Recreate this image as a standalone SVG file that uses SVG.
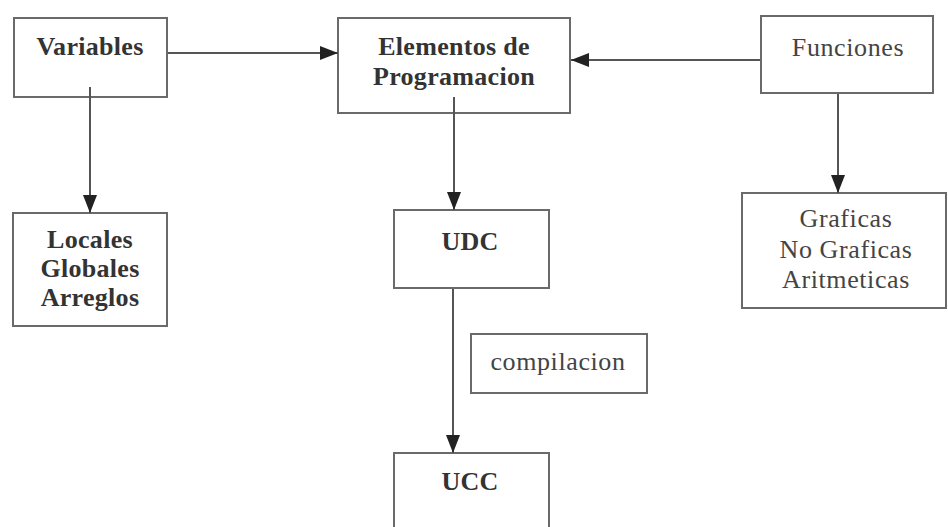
<svg xmlns="http://www.w3.org/2000/svg" width="948" height="527" viewBox="0 0 948 527">
<style>
.box{fill:#fff;stroke:#6a6a6a;stroke-width:2}
.t{font-family:"Liberation Serif","Times New Roman",serif;font-size:26px;font-weight:bold;fill:#333;text-anchor:middle;letter-spacing:0.3px}
.tl{font-family:"Liberation Serif","Times New Roman",serif;font-size:26px;fill:#444;text-anchor:middle;letter-spacing:0.6px}
.c{stroke:#555;stroke-width:2;fill:none;marker-end:url(#ah)}
</style>
<defs>
<marker id="ah" markerUnits="userSpaceOnUse" markerWidth="18" markerHeight="14" viewBox="0 0 18 14" refX="18" refY="7" orient="auto">
<path d="M0,0 L18,7 L0,14 Z" fill="#222"/>
</marker>
</defs>
<rect width="948" height="527" fill="#fff"/>
<g id="variables">
<rect class="box" x="14" y="18" width="153" height="79"/>
<text class="t" x="90" y="55">Variables</text>
</g>
<g id="elementos">
<rect class="box" x="338" y="18" width="232" height="95"/>
<text class="t" x="454" y="55">Elementos de</text>
<text class="t" x="454" y="85">Programacion</text>
</g>
<g id="funciones">
<rect class="box" x="761" y="16" width="172" height="77"/>
<text class="tl" x="848" y="56">Funciones</text>
</g>
<g id="locales">
<rect class="box" x="13" y="213" width="154" height="113"/>
<text class="t" x="90" y="248">Locales</text>
<text class="t" x="90" y="277">Globales</text>
<text class="t" x="90" y="306">Arreglos</text>
</g>
<g id="udc">
<rect class="box" x="394" y="210" width="155" height="78"/>
<text class="t" x="470" y="250">UDC</text>
</g>
<g id="graficas">
<rect class="box" x="742" y="193" width="204" height="115"/>
<text class="tl" x="846" y="227">Graficas</text>
<text class="tl" x="846" y="258">No Graficas</text>
<text class="tl" x="846" y="288">Aritmeticas</text>
</g>
<g id="compilacion">
<rect class="box" x="471" y="334" width="176" height="59"/>
<text class="tl" x="558" y="370">compilacion</text>
</g>
<g id="ucc">
<rect class="box" x="394" y="453" width="155" height="90"/>
<text class="t" x="470" y="490">UCC</text>
</g>
<g id="connectors">
<line class="c" x1="168" y1="53" x2="338" y2="53"/>
<line class="c" x1="760" y1="60" x2="571" y2="60"/>
<line class="c" x1="90" y1="87" x2="90" y2="213"/>
<line class="c" x1="454" y1="97" x2="454" y2="210"/>
<line class="c" x1="838" y1="94" x2="838" y2="193"/>
<line class="c" x1="453" y1="289" x2="453" y2="453"/>
</g>
</svg>
